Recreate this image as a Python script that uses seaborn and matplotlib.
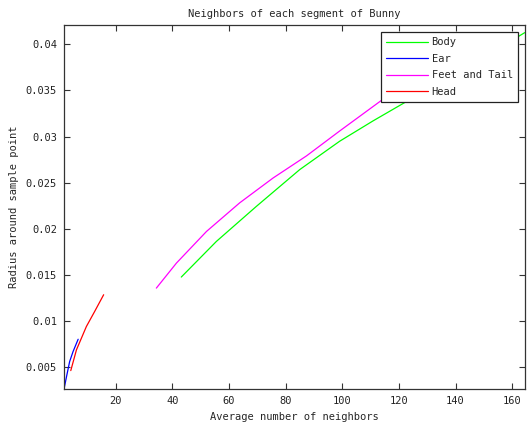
"""Neighbors of each segment of Bunny - radius vs average neighbour count."""

import matplotlib
matplotlib.use("Agg")
import matplotlib.pyplot as plt
import numpy as np
import pandas as pd
import seaborn as sns

# ---------------------------------------------------------------------------
# Data
# ---------------------------------------------------------------------------
segments = ["Body", "Ear", "Feet and Tail", "Head"]
colors = ["#00ff00", "#0000ff", "#ff00ff", "#ff0000"]

body_x = [43.2, 55.6, 69.7, 85.0, 99.1, 110.9, 120.9, 130.0, 140.0, 150.0, 164.4]
body_y = [0.01475, 0.01862, 0.02242, 0.02641, 0.02949, 0.0317, 0.03348,
          0.0351, 0.0368, 0.0386, 0.04127]

ear_x = [1.8, 2.7, 3.8, 5.0, 6.8]
ear_y = [0.00257, 0.00395, 0.00558, 0.00666, 0.0080]

feet_x = [34.4, 41.5, 52.1, 63.8, 75.6, 87.4, 99.1, 113.3, 122.0]
feet_y = [0.01355, 0.01627, 0.0197, 0.0228, 0.0255, 0.0279, 0.0306,
          0.0338, 0.0357]

head_x = [4.2, 6.2, 9.7, 12.6, 15.8]
head_y = [0.0046, 0.00685, 0.00938, 0.0110, 0.01283]

x_ticks = [20, 40, 60, 80, 100, 120, 140, 160]
y_ticks = [0.005, 0.01, 0.015, 0.02, 0.025, 0.03, 0.035, 0.04]

# ---------------------------------------------------------------------------
# Plot
# ---------------------------------------------------------------------------
sns.set_theme(style="ticks")
plt.rcParams["font.family"] = ["DejaVu Sans Mono", "DejaVu Sans"]
FS = 7.5

frames = []
for name, xs, ys in zip(segments,
                        [body_x, ear_x, feet_x, head_x],
                        [body_y, ear_y, feet_y, head_y]):
    frames.append(pd.DataFrame({"neighbors": xs, "radius": ys, "segment": name}))
df = pd.concat(frames, ignore_index=True)

fig = plt.figure(figsize=(5.27, 4.29), dpi=100, facecolor="white")
ax = fig.add_axes([0.1214, 0.0932, 0.8748, 0.8485])

sns.lineplot(data=df, x="neighbors", y="radius", hue="segment",
             hue_order=segments, palette=dict(zip(segments, colors)),
             sort=False, estimator=None, linewidth=0.9, ax=ax)

ax.set_xlim(1.8, 164.5)
ax.set_ylim(0.0026, 0.0421)
ax.set_xticks(x_ticks)
ax.set_yticks(y_ticks)
ax.set_yticklabels([f"{v:g}" for v in y_ticks])

edge = "#333333"
for sp in ax.spines.values():
    sp.set_visible(True)
    sp.set_color(edge)
    sp.set_linewidth(0.9)
ax.tick_params(direction="in", length=4, width=0.8, color=edge,
               top=True, right=True, labelsize=FS, labelcolor="#222222", pad=5)

ax.set_title("Neighbors of each segment of Bunny", fontsize=FS, pad=6)
ax.set_xlabel("Average number of neighbors", fontsize=FS, labelpad=4)
ax.set_ylabel("Radius around sample point", fontsize=FS, labelpad=5)

leg = ax.legend(loc="upper right", fontsize=FS, frameon=True, fancybox=False,
                framealpha=1, edgecolor="#222222", handlelength=4.0,
                borderaxespad=0.67, labelspacing=0.63, handletextpad=0.35,
                borderpad=0.5)
leg.get_frame().set_linewidth(0.9)

fig.savefig("out.png", dpi=100, facecolor="white")
